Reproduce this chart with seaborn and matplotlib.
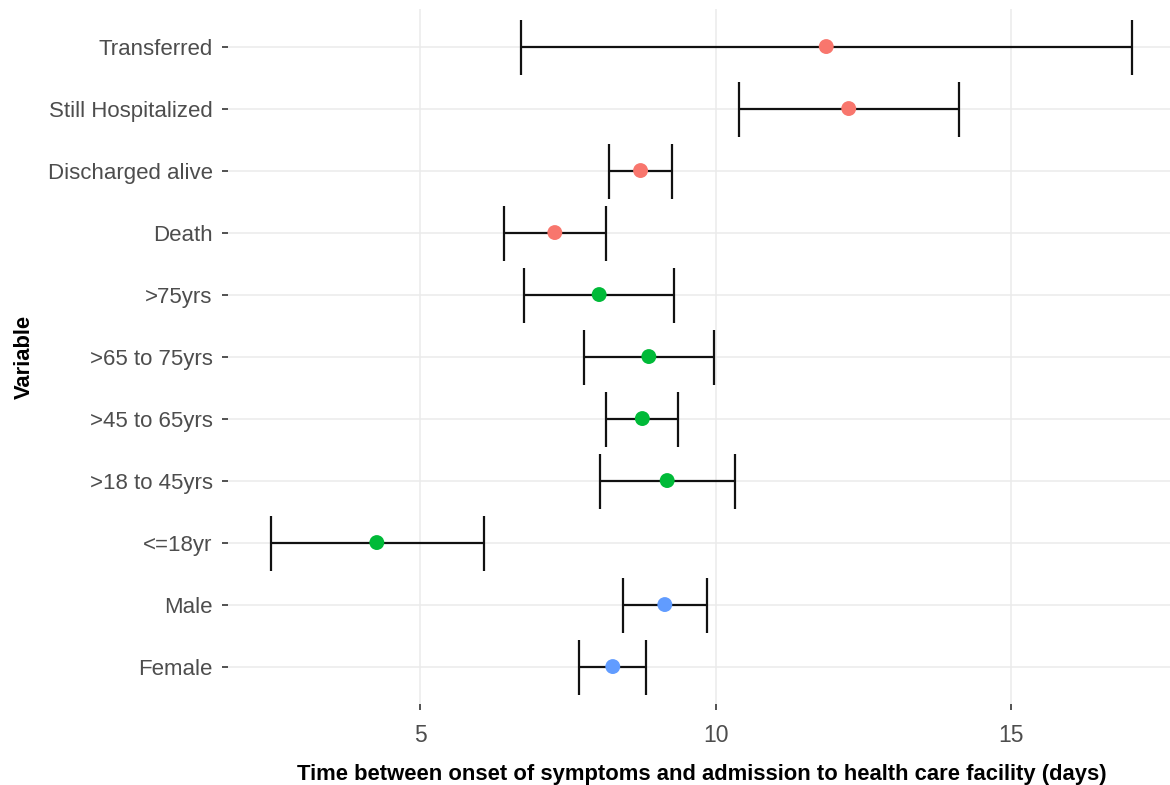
import numpy as np
import pandas as pd
import matplotlib
matplotlib.use("Agg")
import matplotlib.pyplot as plt
import seaborn as sns

# Median time (days) from symptom onset to admission, with interval bounds
variables = ["Transferred", "Still Hospitalized", "Discharged alive", "Death",
             ">75yrs", ">65 to 75yrs", ">45 to 65yrs", ">18 to 45yrs", "<=18yr",
             "Male", "Female"]
groups = ["Outcome", "Outcome", "Outcome", "Outcome",
          "Age", "Age", "Age", "Age", "Age",
          "Sex", "Sex"]
estimate = [11.87, 12.25, 8.73, 7.28, 8.03, 8.87, 8.76, 9.18, 4.27, 9.14, 8.26]
lower = [6.70, 10.39, 8.19, 6.42, 6.76, 7.77, 8.15, 8.05, 2.48, 8.43, 7.69]
upper = [17.04, 14.12, 9.26, 8.14, 9.30, 9.97, 9.37, 10.32, 6.08, 9.85, 8.83]
x_ticks = [5, 10, 15]

palette = {"Outcome": "#F8766D", "Age": "#00BA38", "Sex": "#619CFF"}

df = pd.DataFrame({
    "variable": variables,
    "group": groups,
    "estimate": estimate,
    "lower": lower,
    "upper": upper,
})
df["pos"] = np.arange(len(df))

sns.set_theme(style="whitegrid")
plt.rcParams["font.family"] = ["Liberation Sans", "DejaVu Sans"]

fig = plt.figure(figsize=(11.7, 7.85), dpi=100)
ax = fig.add_axes([0.1948, 0.1035, 0.8095, 0.8846])

ax.errorbar(df["estimate"], df["pos"],
            xerr=[df["estimate"] - df["lower"], df["upper"] - df["estimate"]],
            fmt="none", ecolor="#111111", elinewidth=1.6, capsize=19.8,
            capthick=1.6, zorder=2)
sns.scatterplot(data=df, x="estimate", y="pos", hue="group", palette=palette,
                s=115, edgecolor="none", legend=False, ax=ax, zorder=3)

# ggplot-like expanded limits
span = max(upper) - min(lower)
ax.set_xlim(min(lower) - 0.05 * span, max(upper) + 0.05 * span)
ax.set_ylim(len(variables) - 0.4, -0.6)

ax.set_xticks(x_ticks)
ax.set_xticklabels([str(t) for t in x_ticks])
ax.set_yticks(df["pos"])
ax.set_yticklabels(variables)

ax.set_axisbelow(True)
ax.grid(True, color="#EBEBEB", linewidth=1.1)
for sp in ax.spines.values():
    sp.set_visible(False)
ax.set_facecolor("white")

ax.tick_params(axis="both", which="major", bottom=True, left=True,
               length=4, width=1.2, color="#333333", labelcolor="#4D4D4D")
ax.tick_params(axis="y", labelsize=16, pad=7)
ax.tick_params(axis="x", labelsize=16.5, pad=10.5)

ax.set_xlabel("Time between onset of symptoms and admission to health care facility (days)",
              fontsize=15.8, fontweight="bold", color="black", labelpad=12)
ax.set_ylabel("Variable", fontsize=15.8, fontweight="bold", color="black", labelpad=9)

fig.savefig("out.png", dpi=100, facecolor="white")
